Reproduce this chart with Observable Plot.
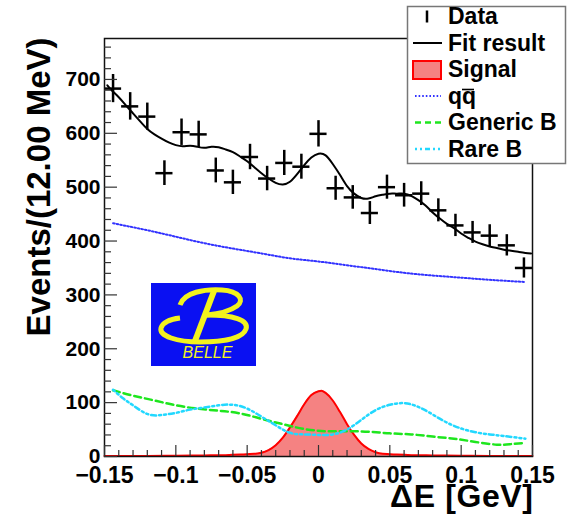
<!DOCTYPE html>
<html>
<head>
<meta charset="utf-8">
<script src="https://cdn.jsdelivr.net/npm/d3@7"></script>
<script src="https://cdn.jsdelivr.net/npm/@observablehq/plot@0.6"></script>
<style>
  html, body { margin: 0; padding: 0; background: white; }
  #wrap { position: relative; width: 572px; height: 519px; overflow: hidden; }
  #overlay { position: absolute; left: 0; top: 0; pointer-events: none; }
  text { font-family: 'Liberation Sans', Arial, Helvetica, sans-serif; }
</style>
</head>
<body>
<div id="wrap">
  <div id="chart"></div>
  <svg id="overlay" width="572" height="519"></svg>
</div>
<script>
// ---------- data ----------
const dataX = [-0.144, -0.132, -0.120, -0.108, -0.096, -0.084, -0.072, -0.060, -0.048, -0.036, -0.024, -0.012, 0.000, 0.012, 0.024, 0.036, 0.048, 0.060, 0.072, 0.084, 0.096, 0.108, 0.120, 0.132, 0.144];
const dataY = [683, 650, 631, 526, 602, 598, 531, 509, 556, 516, 545, 538, 599, 498, 481, 452, 500, 485, 488, 457, 429, 416, 410, 392, 350];
const binHalfWidth = 0.006;

const fitX = [-0.148, -0.145, -0.140, -0.135, -0.130, -0.125, -0.120, -0.115, -0.110, -0.105, -0.100, -0.095, -0.090, -0.085, -0.080, -0.075, -0.070, -0.065, -0.060, -0.055, -0.050, -0.045, -0.040, -0.035, -0.030, -0.025, -0.020, -0.015, -0.010, -0.005, 0.000, 0.005, 0.010, 0.015, 0.020, 0.025, 0.030, 0.035, 0.040, 0.045, 0.050, 0.055, 0.060, 0.065, 0.070, 0.075, 0.080, 0.085, 0.090, 0.095, 0.100, 0.105, 0.110, 0.115, 0.120, 0.125, 0.130, 0.135, 0.140, 0.145, 0.149];
const fitY = [689, 680, 667, 652, 637, 622, 608, 598, 590, 583, 578, 576, 577, 575, 573, 575, 574, 570, 565, 557, 548, 537, 526, 516, 508, 505, 510, 524, 541, 555, 562, 559, 543, 523, 502, 488, 480, 479, 483, 486, 488, 488, 488, 484, 476, 466, 453, 442, 432, 424, 414, 406, 399, 394, 390, 387, 384, 382, 380, 378, 377];

const qqX = [-0.144, -0.12, -0.10, -0.08, -0.06, -0.04, -0.02, 0.00, 0.02, 0.04, 0.06, 0.08, 0.10, 0.12, 0.145];
const qqY = [433, 420, 408, 396, 386, 377, 368, 362, 355, 348, 341, 336, 332, 328, 324];

const genX = [-0.144, -0.13, -0.115, -0.10, -0.085, -0.07, -0.055, -0.04, -0.025, -0.01, 0.005, 0.02, 0.035, 0.05, 0.065, 0.08, 0.095, 0.11, 0.125, 0.135, 0.145];
const genY = [123, 113, 104, 95, 89, 85, 80, 70, 60, 51, 47, 47, 46, 43, 41, 37, 33, 27, 22, 23, 25];

const rareX = [-0.144, -0.137, -0.13, -0.12, -0.11, -0.10, -0.09, -0.08, -0.07, -0.06, -0.05, -0.04, -0.03, -0.02, -0.01, 0.00, 0.01, 0.02, 0.03, 0.04, 0.05, 0.06, 0.07, 0.08, 0.09, 0.10, 0.11, 0.12, 0.13, 0.145];
const rareY = [124, 108, 95, 79, 77, 81, 87, 91, 95, 96, 89, 74, 58, 44, 41, 40, 41, 50, 68, 86, 96, 99, 92, 78, 63, 52, 45, 41, 38, 33];

const sigX = [-0.150, -0.120, -0.100, -0.080, -0.065, -0.055, -0.045, -0.040, -0.035, -0.030, -0.025, -0.020, -0.015, -0.010, -0.005, 0.000, 0.002, 0.005, 0.010, 0.015, 0.020, 0.025, 0.030, 0.035, 0.040, 0.045, 0.055, 0.065, 0.080, 0.100, 0.120, 0.150];
const sigY = [1, 1, 1.5, 2, 2.5, 3.5, 5, 7, 12, 21, 35, 54, 75, 97, 114, 121, 122, 118, 104, 83, 60, 40, 24, 14, 8, 5, 3.5, 2.5, 2, 1.5, 1, 1];

const xMajor = [-0.15, -0.1, -0.05, 0, 0.05, 0.1, 0.15];
const xTickLabels = ["\u22120.15", "\u22120.1", "\u22120.05", "0", "0.05", "0.1", "0.15"];
const xMinor = [-0.14, -0.13, -0.12, -0.11, -0.09, -0.08, -0.07, -0.06, -0.04, -0.03, -0.02, -0.01, 0.01, 0.02, 0.03, 0.04, 0.06, 0.07, 0.08, 0.09, 0.11, 0.12, 0.13, 0.14];
const yMajor = [0, 100, 200, 300, 400, 500, 600, 700];
const yTickLabels = ["0", "100", "200", "300", "400", "500", "600", "700"];
const yMinor = [20, 40, 60, 80, 120, 140, 160, 180, 220, 240, 260, 280, 320, 340, 360, 380, 420, 440, 460, 480, 520, 540, 560, 580, 620, 640, 660, 680, 720, 740, 760];

const yTitle = "Events/(12.00 MeV)";
const xTitle = "\u0394E [GeV]";
const legendLabels = ["Data", "Fit result", "Signal", "qq", "Generic B", "Rare B"];

// ---------- tables ----------
const zip = (xs, ys) => xs.map((x, i) => ({x, y: ys[i]}));
const pts = zip(dataX, dataY);
const fit = zip(fitX, fitY);
const qq = zip(qqX, qqY);
const gen = zip(genX, genY);
const rare = zip(rareX, rareY);
const sig = zip(sigX, sigY);
const xLab = new Map(xMajor.map((v, i) => [v, xTickLabels[i]]));
const yLab = new Map(yMajor.map((v, i) => [v, yTickLabels[i]]));

const FONT = "'Liberation Sans', Arial, Helvetica, sans-serif";

const chart = Plot.plot({
  width: 572,
  height: 519,
  marginLeft: 104,
  marginRight: 40,
  marginTop: 38,
  marginBottom: 63,
  x: {domain: [-0.15, 0.15]},
  y: {domain: [0, 776]},
  style: {fontFamily: FONT, fontWeight: "bold", background: "white", color: "black"},
  marks: [
    Plot.areaY(sig, {x: "x", y: "y", fill: "#f58282", curve: "monotone-x"}),
    Plot.lineY(sig, {x: "x", y: "y", stroke: "#ff0000", strokeWidth: 2, curve: "monotone-x"}),
    Plot.lineY(qq, {x: "x", y: "y", stroke: "#3333ff", strokeWidth: 2, strokeDasharray: "1.6,2", curve: "natural"}),
    Plot.lineY(gen, {x: "x", y: "y", stroke: "#1ee61e", strokeWidth: 2.5, strokeDasharray: "7,4", curve: "natural"}),
    Plot.lineY(rare, {x: "x", y: "y", stroke: "#22d8ff", strokeWidth: 2.5, strokeDasharray: "2,3,2,3,5,3", curve: "natural"}),
    Plot.lineY(fit, {x: "x", y: "y", stroke: "black", strokeWidth: 2, curve: "natural"}),
    Plot.ruleX(pts, {x: "x", y1: d => d.y - Math.sqrt(d.y), y2: d => d.y + Math.sqrt(d.y), stroke: "black", strokeWidth: 2.5}),
    Plot.ruleY(pts, {y: "y", x1: d => d.x - binHalfWidth, x2: d => d.x + binHalfWidth, stroke: "black", strokeWidth: 2.5}),
    Plot.frame({stroke: "#111", strokeWidth: 1.5}),
    Plot.axisY(yMinor, {tickSize: -7, tickFormat: () => "", label: null, strokeWidth: 1.2, stroke: "#333"}),
    Plot.axisY(yMajor, {tickSize: -13, tickPadding: 17, tickFormat: d => yLab.get(d), fontSize: 21, fontWeight: "bold", label: null, strokeWidth: 1.2, stroke: "#333"}),
    Plot.axisX(xMinor, {tickSize: -6, tickFormat: () => "", label: null, strokeWidth: 1.2, stroke: "#333"}),
    Plot.axisX(xMajor, {tickSize: -11, tickPadding: 21, tickFormat: d => xLab.get(d), fontSize: 23, fontWeight: "bold", label: null, strokeWidth: 1.2, stroke: "#333"}),
    Plot.text([yTitle], {frameAnchor: "top-left", rotate: -90, textAnchor: "end", dx: -78, dy: -1, fontSize: 33, fontWeight: "bold", fill: "black"}),
    Plot.text([xTitle], {frameAnchor: "bottom-right", textAnchor: "end", dx: 1, dy: 50, fontSize: 32, fontWeight: "bold", fill: "black"})
  ]
});
document.getElementById("chart").appendChild(chart);
// widen the x-axis title slightly, as in the reference typesetting
d3.select(chart).selectAll("text").filter(function () { return this.textContent === xTitle; })
  .attr("letter-spacing", "0.6px");

// ---------- overlay: legend + experiment logo ----------
const ov = d3.select("#overlay");
const lg = ov.append("g");
lg.append("rect").attr("x", 407.5).attr("y", 6.5).attr("width", 158).attr("height", 157)
  .attr("fill", "white").attr("stroke", "#777").attr("stroke-width", 1.5);
const rows = [24, 50.5, 77, 103.5, 130, 156.5];
const rowC = rows.map(b => b - 7.5);
lg.append("line").attr("x1", 427).attr("x2", 427).attr("y1", rowC[0] - 6).attr("y2", rowC[0] + 6).attr("stroke", "black").attr("stroke-width", 2.5);
lg.append("line").attr("x1", 413).attr("x2", 442).attr("y1", rowC[1]).attr("y2", rowC[1]).attr("stroke", "black").attr("stroke-width", 2);
lg.append("rect").attr("x", 413).attr("y", rowC[2] - 8.5).attr("width", 28).attr("height", 18).attr("fill", "#f58282").attr("stroke", "#ff0000").attr("stroke-width", 2);
lg.append("line").attr("x1", 415).attr("x2", 441).attr("y1", rowC[3]).attr("y2", rowC[3]).attr("stroke", "#3333ff").attr("stroke-width", 2).attr("stroke-dasharray", "1.6,2");
lg.append("line").attr("x1", 415).attr("x2", 441).attr("y1", rowC[4]).attr("y2", rowC[4]).attr("stroke", "#1ee61e").attr("stroke-width", 2.5).attr("stroke-dasharray", "6,4");
lg.append("line").attr("x1", 415).attr("x2", 441).attr("y1", rowC[5]).attr("y2", rowC[5]).attr("stroke", "#22d8ff").attr("stroke-width", 2.5).attr("stroke-dasharray", "2,3,2,3,5,3");
legendLabels.forEach((t, i) => {
  lg.append("text").attr("x", 448).attr("y", rows[i]).attr("font-size", 23).attr("font-weight", "bold")
    .attr("fill", "black").style("font-family", FONT).text(t);
});
// overline on the second q (anti-quark)
lg.append("line").attr("x1", 462).attr("x2", 474).attr("y1", 89.5).attr("y2", 89.5).attr("stroke", "black").attr("stroke-width", 1.6);

// logo
const lo = ov.append("g");
lo.append("rect").attr("x", 151).attr("y", 283).attr("width", 105).attr("height", 83).attr("fill", "#0a10f2");
const yel = "#f2f21e";
lo.append("path").attr("d", "M180,305 C184,292 205,289 222,290 C239,291 245,300 237,306 C230,311 218,314 207,315")
  .attr("fill", "none").attr("stroke", yel).attr("stroke-width", 5);
lo.append("path").attr("d", "M207,315 C233,315 249,320 246,329 C243,338 225,342 200,342 C177,342 159,336 161,328 C163,322 171,319 180,318")
  .attr("fill", "none").attr("stroke", yel).attr("stroke-width", 5);
lo.append("path").attr("d", "M214,291 L195,341").attr("fill", "none").attr("stroke", yel).attr("stroke-width", 6);
lo.append("text").attr("x", 207.5).attr("y", 358).attr("text-anchor", "middle").attr("font-size", 16)
  .attr("font-style", "italic").attr("fill", yel).style("font-family", FONT).text("BELLE");
</script>
</body>
</html>
